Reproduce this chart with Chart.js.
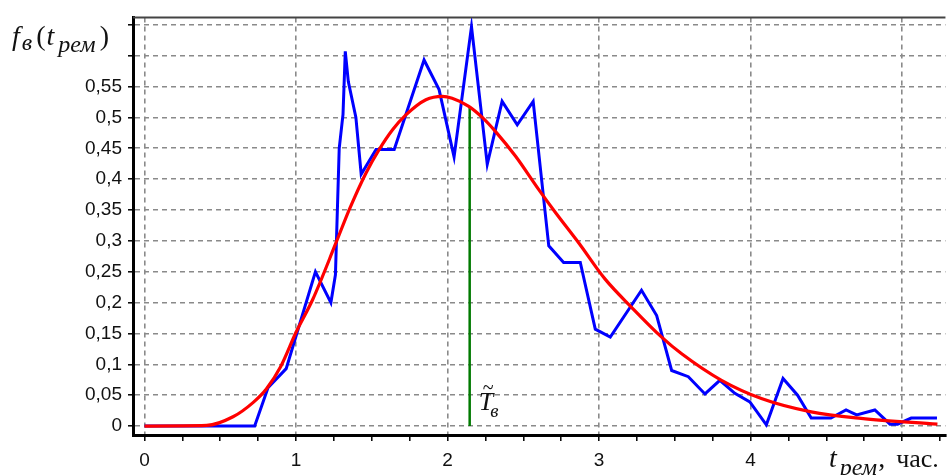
<!DOCTYPE html>
<html>
<head>
<meta charset="utf-8">
<script src="https://cdn.jsdelivr.net/npm/chart.js@4/dist/chart.umd.min.js"></script>
<style>
  html, body { margin: 0; padding: 0; background: #fff; }
  #chart { display: block; }
</style>
</head>
<body>
<canvas id="chart" width="948" height="475"></canvas>
<script>
// empirical density (blue polyline)
const blueX = [0, 0.727, 0.815, 0.935, 1.128, 1.23, 1.26, 1.285, 1.31, 1.325, 1.345, 1.395, 1.43, 1.528, 1.648,
  1.845, 1.944, 2.043, 2.158, 2.262, 2.36, 2.46, 2.565, 2.668, 2.766, 2.876, 2.975, 3.074, 3.28, 3.38, 3.479,
  3.589, 3.699, 3.797, 3.896, 3.995, 4.104, 4.214, 4.31, 4.40, 4.53, 4.63, 4.70, 4.82, 4.92, 4.97, 5.06, 5.23];
const blueY = [0, 0, 0.062, 0.093, 0.25, 0.20, 0.245, 0.45, 0.505, 0.607, 0.558, 0.50, 0.408, 0.448, 0.448,
  0.593, 0.545, 0.436, 0.647, 0.424, 0.526, 0.488, 0.526, 0.292, 0.265, 0.265, 0.157, 0.144, 0.22, 0.179, 0.09,
  0.08, 0.052, 0.074, 0.053, 0.039, 0.002, 0.077, 0.05, 0.013, 0.013, 0.026, 0.018, 0.026, 0.003, 0.003, 0.013, 0.013];

// fitted density (red curve)
const redX = [0, 0.41, 0.584, 0.716, 0.804, 0.9, 1.0, 1.11, 1.264, 1.352, 1.462, 1.549, 1.637, 1.725, 1.857,
  1.966, 2.03, 2.14, 2.229, 2.317, 2.449, 2.602, 2.712, 2.865, 3.04, 3.216, 3.413, 3.545, 3.808, 4.071, 4.40, 4.729, 5.233];
const redY = [0, 0.001, 0.015, 0.038, 0.06, 0.097, 0.152, 0.205, 0.297, 0.351, 0.41, 0.448, 0.48, 0.504, 0.5285,
  0.534, 0.531, 0.518, 0.50, 0.477, 0.437, 0.383, 0.346, 0.297, 0.238, 0.192, 0.144, 0.117, 0.074, 0.0446, 0.023, 0.0124, 0.003];

// mean repair time marker (green)
const meanX = [2.146, 2.146];
const meanY = [0, 0.518];

const xRange = [-0.076, 5.286];
const yRange = [-0.0145, 0.662];
const xLabelTicks = [0, 1, 2, 3, 4];
const yLabelMax = 0.55;

const pts = (xs, ys) => xs.map((x, i) => ({ x: x, y: ys[i] }));
const isInt = v => Math.abs(v - Math.round(v)) < 1e-6;

const serif = '"Liberation Serif", "DejaVu Serif", serif';
const sans = '"Liberation Sans", Arial, sans-serif';

// draws a run of text pieces one after another, some lowered as subscripts
function drawRun(ctx, parts, x, y) {
  parts.forEach(p => {
    ctx.font = p.font;
    ctx.fillText(p.t, x, y + (p.dy || 0));
    x += ctx.measureText(p.t).width + (p.gap || 0);
  });
}

const labelsPlugin = {
  id: 'labels',
  afterDraw(chart) {
    const ctx = chart.ctx;
    const area = chart.chartArea;
    ctx.save();
    // top frame line
    ctx.strokeStyle = '#444';
    ctx.lineWidth = 2;
    ctx.beginPath();
    ctx.moveTo(area.left, area.top);
    ctx.lineTo(area.right, area.top);
    ctx.stroke();

    ctx.fillStyle = '#111';
    ctx.textBaseline = 'alphabetic';
    ctx.textAlign = 'left';
    const it = 'italic 28px ' + serif;
    const itSub = 'italic 24px ' + serif;
    const up = '28px ' + serif;

    drawRun(ctx, [
      { t: 'f', font: it, gap: 2 },
      { t: 'в', font: itSub, dy: 5, gap: 4 },
      { t: '(', font: up, gap: 1 },
      { t: 't', font: it, gap: 4 },
      { t: 'рем', font: itSub, dy: 7, gap: 4 },
      { t: ')', font: up }
    ], 12, 45);

    drawRun(ctx, [
      { t: 't', font: it, gap: 3 },
      { t: 'рем', font: itSub, dy: 8, gap: 1 },
      { t: ', ', font: up, gap: 4 },
      { t: 'час.', font: '26px ' + serif }
    ], 829, 467);

    // T with tilde near the green marker
    const xs = chart.scales.x;
    const ys = chart.scales.y;
    const tx = xs.getPixelForValue(meanX[0]) + 9;
    const ty = ys.getPixelForValue(0.026);
    drawRun(ctx, [
      { t: 'T', font: 'italic 26px ' + serif, gap: -3 },
      { t: 'в', font: 'italic 19px ' + serif, dy: 7 }
    ], tx, ty);
    ctx.font = '20px ' + serif;
    ctx.fillText('~', tx + 4, ty - 16);
    ctx.restore();
  }
};

new Chart(document.getElementById('chart'), {
  type: 'line',
  data: {
    datasets: [
      {
        data: pts(redX, redY),
        borderColor: '#ff0000',
        borderWidth: 3.2,
        pointRadius: 0,
        cubicInterpolationMode: 'monotone'
      },
      {
        data: pts(meanX, meanY),
        borderColor: '#007a00',
        borderWidth: 2.5,
        pointRadius: 0
      },
      {
        data: pts(blueX, blueY),
        borderColor: '#0000ff',
        borderWidth: 3,
        pointRadius: 0,
        tension: 0
      }
    ]
  },
  options: {
    responsive: false,
    animation: false,
    layout: { padding: { top: 15, right: 0, left: 0, bottom: 0 } },
    plugins: {
      legend: { display: false },
      tooltip: { enabled: false }
    },
    scales: {
      x: {
        type: 'linear',
        min: xRange[0],
        max: xRange[1],
        afterFit(scale) { scale.height = 40; },
        border: { display: true, color: '#000', width: 3, dash: [5, 4] },
        grid: {
          color: ctx => (ctx.tick && isInt(ctx.tick.value)) ? '#8a8a8a' : 'rgba(0,0,0,0)',
          lineWidth: 1.6,
          tickColor: '#000',
          tickLength: 6,
          tickWidth: 1.5
        },
        ticks: {
          stepSize: 0.25,
          includeBounds: false,
          autoSkip: false,
          maxRotation: 0,
          padding: 8,
          color: '#111',
          font: { family: sans, size: 19 },
          callback: v => xLabelTicks.some(t => Math.abs(t - v) < 1e-6) ? String(Math.round(v)) : ''
        }
      },
      y: {
        min: yRange[0],
        max: yRange[1],
        afterFit(scale) { scale.width = 133; },
        border: { display: true, color: '#000', width: 3, dash: [5, 4] },
        grid: {
          color: '#8a8a8a',
          lineWidth: 1.6,
          tickColor: '#000',
          tickLength: 5,
          tickWidth: 1.5
        },
        ticks: {
          stepSize: 0.05,
          includeBounds: false,
          autoSkip: false,
          padding: 6,
          color: '#111',
          font: { family: sans, size: 19 },
          callback: v => {
            const r = Math.round(v * 100) / 100;
            return r > yLabelMax + 1e-6 ? '' : String(r).replace('.', ',');
          }
        }
      }
    }
  },
  plugins: [labelsPlugin]
});
</script>
</body>
</html>
